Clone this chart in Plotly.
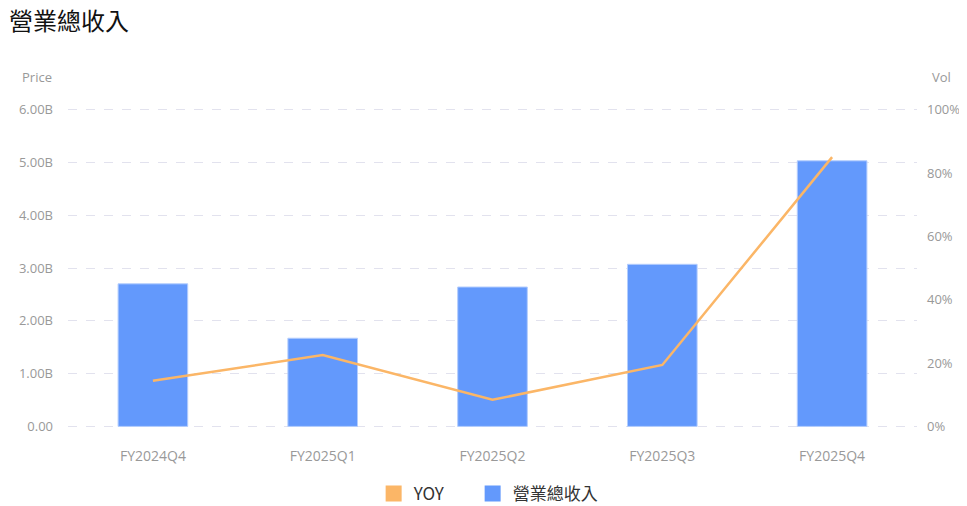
import plotly.graph_objects as go

# 季度
quarters = ["FY2024Q4", "FY2025Q1", "FY2025Q2", "FY2025Q3", "FY2025Q4"]
# 營業總收入 (元)
revenue = [2.70e9, 1.67e9, 2.64e9, 3.07e9, 5.03e9]
# 年增率
yoy = [0.144, 0.225, 0.084, 0.194, 0.85]

left_ticks = [0, 1e9, 2e9, 3e9, 4e9, 5e9, 6e9]
left_labels = ["0.00", "1.00B", "2.00B", "3.00B", "4.00B", "5.00B", "6.00B"]
right_ticks = [0, 0.2, 0.4, 0.6, 0.8, 1.0]
right_labels = ["0%", "20%", "40%", "60%", "80%", "100%"]

BLUE = "#6399fc"
ORANGE = "#fbb667"
GREY = "#999999"

# 頁面本身有 8px 的邊距，所以圖的尺寸縮小 8px
W, H = 959, 498

fig = go.Figure()

# 圖例用的方塊 (兩個圖例各放一個，方便控制間距)
fig.add_trace(go.Scatter(
    x=[quarters[0]], y=[None], mode="markers", name="YOY", legend="legend",
    marker=dict(symbol="square", size=16, color=ORANGE),
))
fig.add_trace(go.Scatter(
    x=[quarters[0]], y=[None], mode="markers", name="營業總收入", legend="legend2",
    marker=dict(symbol="square", size=16, color=BLUE),
))

fig.add_trace(go.Bar(
    x=quarters, y=revenue, name="營業總收入",
    marker=dict(color=BLUE, line=dict(color="#b4cdfd", width=1)),
    width=0.41, showlegend=False,
))

fig.add_trace(go.Scatter(
    x=quarters, y=yoy, name="YOY", yaxis="y2",
    mode="lines", line=dict(color=ORANGE, width=2.5),
    showlegend=False,
))

legend_font = dict(family="Noto Sans CJK TC, sans-serif", size=17, color="#333333")

fig.update_layout(
    width=W, height=H,
    margin=dict(l=60, r=50, t=100, b=78, autoexpand=False),
    paper_bgcolor="white", plot_bgcolor="white",
    font=dict(family="Open Sans, Noto Sans CJK TC, sans-serif", size=13, color=GREY),
    title=dict(
        text="營業總收入", xref="container", yref="container",
        x=1 / W, xanchor="left", y=1 - 14 / H, yanchor="middle",
        font=dict(family="Noto Sans CJK TC, sans-serif", size=24, color="#111111"),
    ),
    showlegend=True,
    legend=dict(
        orientation="h", xref="paper", x=0.36, xanchor="left",
        yref="container", y=12 / H, yanchor="middle", font=legend_font,
    ),
    legend2=dict(
        orientation="h", xref="paper", x=0.36 + 99 / 849, xanchor="left",
        yref="container", y=12 / H, yanchor="middle", font=legend_font,
    ),
    xaxis=dict(
        type="category", categoryorder="array", categoryarray=quarters,
        range=[-0.5, 4.5], automargin=False,
        showgrid=False, showline=False, zeroline=False, ticks="",
        ticklabelstandoff=18, tickfont=dict(size=14, color=GREY),
    ),
    yaxis=dict(
        range=[-3e7, 6.03e9], tickvals=left_ticks, ticktext=left_labels,
        showgrid=True, gridcolor="#e2e2ee", griddash="dash", gridwidth=1,
        zeroline=False, showline=False, ticks="", automargin=False,
        ticklabelstandoff=14, tickfont=dict(size=13, color=GREY),
    ),
    yaxis2=dict(
        range=[-0.005, 1.005], tickvals=right_ticks, ticktext=right_labels,
        overlaying="y", side="right", showgrid=False, zeroline=False,
        showline=False, ticks="", ticklabelstandoff=9, automargin=False,
        tickfont=dict(size=13, color=GREY),
    ),
    annotations=[
        dict(text="Price", xref="paper", yref="paper", x=-0.0165, y=1.097,
             xanchor="right", yanchor="middle", showarrow=False,
             font=dict(size=13, color=GREY)),
        dict(text="Vol", xref="paper", yref="paper", x=1.0153, y=1.097,
             xanchor="left", yanchor="middle", showarrow=False,
             font=dict(size=13, color=GREY)),
    ],
)

fig.write_html("out.html")
